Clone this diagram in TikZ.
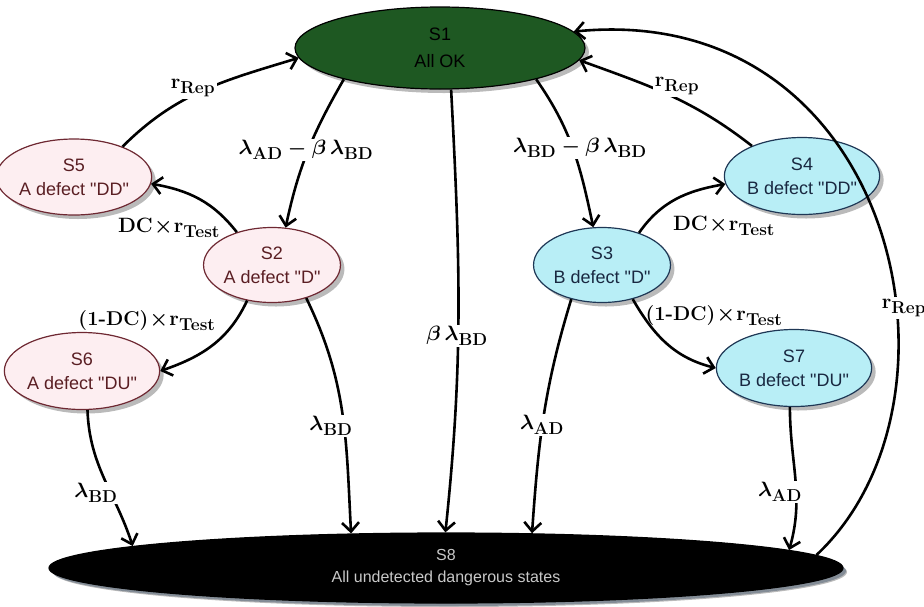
\documentclass[tikz,border=0pt]{standalone}
\usepackage{fontspec}
\setsansfont{Liberation Sans}
\usetikzlibrary{arrows.meta,shapes.geometric,shadows}
\DeclareMathSizes{20}{20}{16}{12}

\definecolor{okgreen}{RGB}{30,88,34}
\definecolor{pinkfill}{RGB}{253,238,241}
\definecolor{pinkline}{RGB}{110,40,50}
\definecolor{pinktext}{RGB}{90,30,35}
\definecolor{bluefill}{RGB}{184,238,246}
\definecolor{blueline}{RGB}{30,55,85}
\definecolor{bluetext}{RGB}{25,40,65}
\definecolor{s8text}{RGB}{200,200,200}

\newcommand{\qd}[1]{\textquotedbl#1\textquotedbl}
\newcommand{\tms}{\mathbin{\!\times\!}}

\tikzset{
  state/.style={ellipse, draw, line width=1.2pt, inner sep=0pt, align=center,
    font=\sffamily\fontsize{18}{24}\selectfont,
    drop shadow={shadow xshift=4pt, shadow yshift=-4pt, fill=black!60, opacity=.45}},
  pinkstate/.style={state, fill=pinkfill, draw=pinkline, text=pinktext,
    minimum width=128pt, minimum height=76pt},
  bluestate/.style={state, fill=bluefill, draw=blueline, text=bluetext,
    minimum width=129pt, minimum height=76pt},
  trans/.style={line width=2.6pt, -{Straight Barb[length=9pt,width=17pt]}},
  rate/.style={font=\fontsize{20}{24}\selectfont\boldmath, inner sep=2pt},
  onrate/.style={rate, fill=white}
}

\begin{document}
\begin{tikzpicture}[x=1pt,y=1pt]
\useasboundingbox (0,0) rectangle (924,-606);

% states
\node[state, fill=okgreen, draw=black, text=black, minimum width=290pt,
      minimum height=82pt, font=\sffamily\fontsize{18}{27}\selectfont]
      (s1) at (440,-48) {S1\\All OK};
\node[pinkstate] (s5) at (74,-177) {S5\\A defect \qd{DD}};
\node[pinkstate, minimum width=126pt, minimum height=75pt] (s2) at (272,-265) {S2\\A defect \qd{D}};
\node[pinkstate, minimum width=129pt, minimum height=77pt] (s6) at (82,-371) {S6\\A defect \qd{DU}};
\node[bluestate, minimum height=77pt] (s4) at (802,-176) {S4\\B defect \qd{DD}};
\node[bluestate, minimum width=130pt, minimum height=75pt] (s3) at (602,-265) {S3\\B defect \qd{D}};
\node[bluestate, minimum width=128pt, minimum height=77pt] (s7) at (794,-368) {S7\\B defect \qd{DU}};
\node[state, fill=black, draw=black, text=s8text, minimum width=794pt,
      minimum height=70pt, font=\sffamily\fontsize{16}{22}\selectfont,
      drop shadow={shadow xshift=3pt, shadow yshift=-3pt, fill=blueline, opacity=.35}]
      (s8) at (446,-568) {S8\\All undetected dangerous states};

% transitions
\draw[trans] (s5.32) to[out=45,in=197] (s1.184);
\draw[trans] (s1.198) to[out=240,in=78] (s2.70);
\draw[trans] (s2.137) to[out=128,in=350] (s5.355);
\draw[trans] (s2.235) to[out=245,in=19] (s6.0);
\draw[trans] (s2.316) to[out=-64,in=93] (s8.160.5);
\draw[trans] (s6.278) to[out=-88,in=108] (s8.176.9);
\draw[trans] (s1.285) to[out=-87,in=84] (s8.91.6);
\draw[trans] (s1.342) to[out=-55,in=102] (s3.103.6);
\draw[trans] (s3.41) to[out=55,in=190] (s4.186);
\draw[trans] (s3.312) to[out=-60,in=166] (s7.180);
\draw[trans] (s3.228) to[out=253,in=86] (s8.22.7);
\draw[trans] (s7.264) to[out=-90,in=74] (s8.3.5);
\draw[trans] (s4.149) to[out=142,in=340] (s1.355.6);
\draw[trans] (s8.2.9) .. controls (982,-400) and (895,0) .. (s1.7);

% rates
\node[onrate] (r51) at (193,-88) {$\mathbf{r}_{\mathbf{Rep}}$};
\node[onrate] (r12) at (306,-150) {$\lambda_{\mathbf{AD}}-\beta\,\lambda_{\mathbf{BD}}$};
\node[rate] (r25) at (169,-228) {$\mathbf{DC}\tms\mathbf{r}_{\mathbf{Test}}$};
\node[rate] (r26) at (147,-321) {$\mbox{\bfseries(1-DC)}\tms\mathbf{r}_{\mathbf{Test}}$};
\node[onrate] (r28) at (331,-426) {$\lambda_{\mathbf{BD}}$};
\node[onrate] (r68) at (96,-493) {$\lambda_{\mathbf{BD}}$};
\node[onrate] (r18) at (457,-336) {$\beta\,\lambda_{\mathbf{BD}}$};
\node[onrate] (r13) at (580,-148) {$\lambda_{\mathbf{BD}}-\beta\,\lambda_{\mathbf{BD}}$};
\node[onrate] (r41) at (677,-86) {$\mathbf{r}_{\mathbf{Rep}}$};
\node[rate] (r34) at (724,-226) {$\mathbf{DC}\tms\mathbf{r}_{\mathbf{Test}}$};
\node[rate] (r37) at (714,-316) {$\mbox{\bfseries(1-DC)}\tms\mathbf{r}_{\mathbf{Test}}$};
\node[onrate] (r38) at (542,-425) {$\lambda_{\mathbf{AD}}$};
\node[onrate] (r78) at (780,-492) {$\lambda_{\mathbf{AD}}$};
\node[onrate] (r81) at (904,-308) {$\mathbf{r}_{\mathbf{Rep}}$};
\end{tikzpicture}
\end{document}
